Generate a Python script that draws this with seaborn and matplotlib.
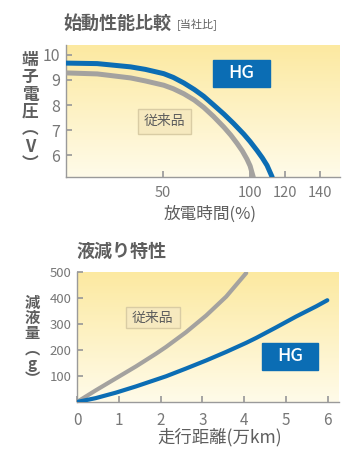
import matplotlib
matplotlib.use('Agg')
import matplotlib.pyplot as plt
import numpy as np
import pandas as pd
import seaborn as sns
from matplotlib.patches import Rectangle

sns.set_theme(style='ticks')
plt.rcParams['font.family'] = ['Noto Sans CJK JP', 'DejaVu Sans']

# starting performance: discharge time (%) vs terminal voltage (V)
start_hg_x = [-5.5, 12.4, 31.5, 40, 50.5, 56, 62, 68, 73.4, 79, 85, 90.5, 96.3, 100,
              104, 107, 109.7, 112.5, 113.2]
start_hg_y = [9.67, 9.65, 9.52, 9.42, 9.25, 9.10, 8.88, 8.62, 8.35, 8.01, 7.64, 7.27,
              6.85, 6.55, 6.19, 5.90, 5.60, 5.16, 5.0]
start_old_x = [-5.5, 12.4, 31.5, 40, 50.5, 56, 62, 68, 73.4, 79, 85, 89, 92.5, 95.5,
               98.2, 100, 101.7, 102.2]
start_old_y = [9.28, 9.24, 9.08, 8.96, 8.79, 8.65, 8.45, 8.20, 7.91, 7.55, 7.12, 6.80,
               6.48, 6.18, 5.85, 5.58, 5.16, 5.0]
start_xticks = [50, 100, 120, 140]
start_yticks = [6, 7, 8, 9, 10]

# liquid loss: mileage (10,000 km) vs loss (g)
loss_hg_x = [0, 0.45, 0.93, 1.41, 1.89, 2.13, 2.61, 3.09, 3.57, 4.05, 4.29, 4.76, 5.24,
             5.73, 5.99]
loss_hg_y = [0, 15, 36, 60, 86, 99, 129, 160, 193, 228, 247, 287, 329, 369, 392]
loss_old_x = [0, 0.45, 0.93, 1.41, 1.89, 2.13, 2.61, 3.09, 3.57, 4.05]
loss_old_y = [0, 45, 91, 137, 186, 212, 269, 333, 406, 497]
loss_xticks = [0, 1, 2, 3, 4, 5, 6]
loss_yticks = [100, 200, 300, 400, 500]

BLUE = '#0b6db4'
GRAY = '#a4a29f'
TEXT = '#5e5e5e'
TICK = '#777777'


def background(ax):
    top = np.array([252, 233, 160]) / 255
    bottom = np.array([255, 251, 233]) / 255
    t = np.linspace(0, 1, 256)[:, None]
    grad = top * (1 - t) + bottom * t
    ax.imshow(grad[:, None, :], extent=[0, 1, 0, 1], transform=ax.transAxes,
              aspect='auto', zorder=0, interpolation='bilinear')


def style_axes(ax, size_x, size_y, pad_x):
    for side in ['top', 'right']:
        ax.spines[side].set_visible(False)
    for side in ['left', 'bottom']:
        ax.spines[side].set_color('#9a9a9a')
        ax.spines[side].set_linewidth(1.0)
    ax.tick_params(axis='both', direction='in', length=4, color='#9a9a9a', colors=TICK)
    ax.tick_params(axis='x', labelsize=size_x, pad=pad_x)
    ax.tick_params(axis='y', labelsize=size_y, pad=4)
    ax.set_xlabel('')
    ax.set_ylabel('')


def label_box(ax, x0, y0, x1, y1, text, face, edge, color, size, weight='normal'):
    ax.add_patch(Rectangle((x0, y0), x1 - x0, y1 - y0, transform=ax.transAxes,
                           facecolor=face, edgecolor=edge, lw=1, zorder=5))
    ax.text((x0 + x1) / 2, (y0 + y1) / 2, text, transform=ax.transAxes, ha='center',
            va='center', color=color, fontsize=size, fontweight=weight, zorder=6)


def plot_start(fig):
    ax = fig.add_axes([66 / 355, 1 - 177.5 / 465, 274 / 355, 132.5 / 465])
    background(ax)
    df_hg = pd.DataFrame({'x': start_hg_x, 'y': start_hg_y})
    df_old = pd.DataFrame({'x': start_old_x, 'y': start_old_y})
    sns.lineplot(data=df_old, x='x', y='y', ax=ax, color=GRAY, lw=3.6, sort=False,
                 zorder=3)
    sns.lineplot(data=df_hg, x='x', y='y', ax=ax, color=BLUE, lw=3.6, sort=False,
                 zorder=4)
    ax.set_xlim(-5.5, 151.5)
    ax.set_ylim(5.12, 10.39)
    ax.set_xticks(start_xticks)
    ax.set_yticks(start_yticks)
    style_axes(ax, 10.5, 11.5, 6)
    label_box(ax, 0.536, 0.683, 0.745, 0.887, 'HG', BLUE, BLUE, 'white', 13, 'medium')
    label_box(ax, 0.263, 0.330, 0.456, 0.518, '従来品', '#f6e9bf', '#d9cca4', TEXT, 10)

    fig.text(63 / 355, 1 - 23 / 465, '始動性能比較', ha='left', va='center',
             fontsize=13, fontweight='bold', color=TEXT)
    fig.text(177 / 355, 1 - 24 / 465, '[当社比]', ha='left', va='center',
             fontsize=8, color=TEXT)
    fig.text(30 / 355, 1 - 112 / 465, '端\n子\n電\n圧\n︵\nV\n︶', ha='center',
             va='center', fontsize=12, fontweight='bold', color=TEXT, linespacing=0.95)
    fig.text(210 / 355, 1 - 214 / 465, '放電時間(%)', ha='center', va='center',
             fontsize=12, color=TEXT)


def plot_loss(fig):
    ax = fig.add_axes([77 / 355, 1 - 402 / 465, 262 / 355, 130.3 / 465])
    background(ax)
    df_hg = pd.DataFrame({'x': loss_hg_x, 'y': loss_hg_y})
    df_old = pd.DataFrame({'x': loss_old_x, 'y': loss_old_y})
    sns.lineplot(data=df_old, x='x', y='y', ax=ax, color=GRAY, lw=3, sort=False,
                 zorder=3, solid_capstyle='round')
    sns.lineplot(data=df_hg, x='x', y='y', ax=ax, color=BLUE, lw=3, sort=False,
                 zorder=4, solid_capstyle='round')
    ax.set_xlim(0, 6.27)
    ax.set_ylim(0, 502)
    ax.set_xticks(loss_xticks)
    ax.set_yticks(loss_yticks)
    style_axes(ax, 11, 9.5, 7)
    label_box(ax, 0.706, 0.246, 0.920, 0.453, 'HG', BLUE, BLUE, 'white', 13, 'medium')
    label_box(ax, 0.187, 0.568, 0.393, 0.729, '従来品', '#f6e9bf', '#d9cca4', TEXT, 10)

    fig.text(76 / 355, 1 - 251.7 / 465, '液減り特性', ha='left', va='center',
             fontsize=13, fontweight='bold', color=TEXT)
    fig.text(32 / 355, 1 - 341 / 465, '減\n液\n量\n︵\ng\n︶', ha='center',
             va='center', fontsize=11, fontweight='bold', color=TEXT, linespacing=0.95)
    fig.text(220 / 355, 1 - 437 / 465, '走行距離(万km)', ha='center', va='center',
             fontsize=12.5, color=TEXT)


def main():
    fig = plt.figure(figsize=(3.55, 4.65), dpi=100)
    fig.patch.set_facecolor('white')
    plot_start(fig)
    plot_loss(fig)
    fig.savefig('out.png', dpi=100, facecolor='white')


if __name__ == '__main__':
    main()
